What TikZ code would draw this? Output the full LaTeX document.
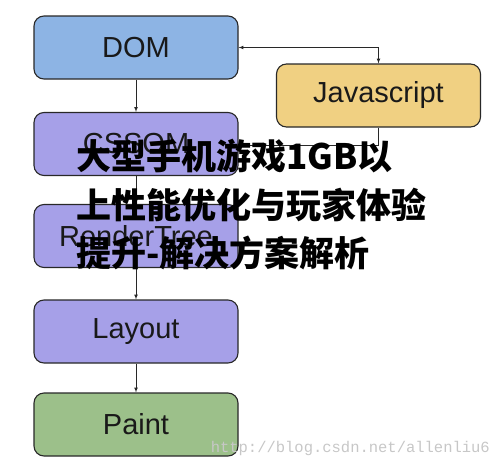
\documentclass[tikz,border=0pt]{standalone}
\usepackage{fontspec}
\setmainfont{Liberation Sans}
\newfontfamily\cjk[BoldFont={Noto Sans CJK SC Black}]{Noto Sans CJK SC}
\newfontfamily\wmfont{Liberation Mono}
\usepackage{tikz}
\usetikzlibrary{arrows}
\usetikzlibrary{positioning}

\definecolor{domblue}{RGB}{141,180,228}
\definecolor{cssviolet}{RGB}{166,160,232}
\definecolor{jsyellow}{RGB}{240,208,130}
\definecolor{paintgreen}{RGB}{156,192,138}
\definecolor{edgegray}{RGB}{40,40,40}

\tikzset{
  stage/.style={rectangle, rounded corners=10pt, draw=edgegray, line width=1.1pt,
    minimum width=204pt, minimum height=63pt, inner sep=0pt,
    font=\fontsize{29}{30}\selectfont, text=black!90},
  flow/.style={-latex, draw=edgegray, line width=0.7pt}
}

\begin{document}
\begin{tikzpicture}[x=1pt, y=-1pt]
\useasboundingbox (0,0) rectangle (500,471);
\node [stage, fill=domblue] (DOM) at (136, 47.5) {DOM};
\node [stage, fill=jsyellow] (JS) at (378.5, 95.5) {Javascript};
\node [stage, fill=cssviolet] (CSSOM) at (136, 144) {CSSOM};
\node [stage, fill=cssviolet] (RT) at (136, 236) {RenderTree};
\node [stage, fill=cssviolet] (Lay) at (136, 331.5) {Layout};
\node [stage, fill=paintgreen] (Paint) at (136, 424.5) {Paint};
\coordinate (turn) at (378.5, 47.5);
\coordinate (jsdrop) at (378.5, 145);
\draw [flow] (DOM) to (CSSOM);
\draw [flow] (CSSOM) to (RT);
\draw [flow] (RT) to (Lay);
\draw [flow] (Lay) to (Paint);
\draw [latex-latex, draw=edgegray, line width=0.7pt] (DOM.east |- turn) -- (turn) -- (JS.north);
\draw [flow] (JS.south) -- (jsdrop) -- (CSSOM.east |- jsdrop);
% title laid over the chart
\node [anchor=north west, align=left, inner sep=0pt, text=black,
  font=\cjk\bfseries\fontsize{35}{48.5}\selectfont] (title) at (76, 139)
  {大型手机游戏1GB以\\上性能优化与玩家体验\\提升-解决方案解析};
\node [anchor=east, inner sep=0pt, text=black!22,
  font=\wmfont\fontsize{15.5}{16}\selectfont] (wm) at (490, 448)
  {http://blog.csdn.net/allenliu6};
\end{tikzpicture}
\end{document}
